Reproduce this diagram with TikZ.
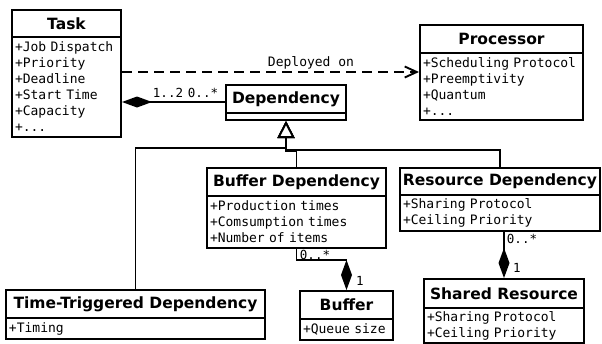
\documentclass[tikz,border=0pt]{standalone}
\usepackage{fontspec}
\setmainfont{DejaVu Sans}
\setmonofont{DejaVu Sans Mono}
\usetikzlibrary{arrows.meta}
\tikzset{
 ttl/.style={draw, line width=2pt, inner sep=0pt, anchor=north west, font=\fontsize{15.5}{18}\selectfont\bfseries},
 att/.style={draw, line width=2pt, inner xsep=3pt, inner ysep=0pt, anchor=north west, align=left, font=\fontsize{13}{16}\selectfont\ttfamily},
 lbl/.style={font=\fontsize{12.5}{14}\selectfont\ttfamily, inner sep=0pt},
 ln/.style={line width=1.9pt},
 comp/.style={ln, {Diamond[length=30pt,width=11pt]}-},
 gen/.style={ln, -{Triangle[open,length=17pt,width=17pt,fill=white]}},
 deploy/.style={ln, dash pattern=on 10pt off 6pt, -{Straight Barb[length=12pt,width=11pt]}},
}
\begin{document}
\begin{tikzpicture}[x=1pt,y=-1pt]
\useasboundingbox (0,0) rectangle (602,343);
\fill[white] (0,0) rectangle (602,343);
% Task
\node[ttl, minimum width=109pt, minimum height=27pt] (task) at (11,9) {Task};
\node[att, minimum width=109pt, minimum height=100pt, text width=103pt] (taskA) at (11,36) {+Job Dispatch\\+Priority\\+Deadline\\+Start Time\\+Capacity\\+...};
% Processor
\node[ttl, minimum width=163pt, minimum height=28pt] (proc) at (419,24) {Processor};
\node[att, minimum width=163pt, minimum height=67pt, text width=157pt] (procA) at (419,52) {+Scheduling Protocol\\+Preemptivity\\+Quantum\\+...};
% Dependency
\node[ttl, minimum width=120pt, minimum height=28pt] (dep) at (225,84) {Dependency};
\node[att, minimum width=120pt, minimum height=7pt] (depA) at (225,112) {};
% Time-Triggered
\node[ttl, minimum width=259pt, minimum height=28pt] (tt) at (5,289) {Time-Triggered Dependency};
\node[att, minimum width=259pt, minimum height=21pt, text width=253pt] (ttA) at (5,317) {+Timing};
% Buffer Dependency
\node[ttl, minimum width=179pt, minimum height=28pt] (bufdep) at (206,167) {Buffer Dependency};
\node[att, minimum width=179pt, minimum height=52pt, text width=173pt] (bufdepA) at (206,195) {+Production times\\+Comsumption times\\+Number of items};
% Resource Dependency
\node[ttl, minimum width=200pt, minimum height=27pt] (res) at (399,167) {Resource Dependency};
\node[att, minimum width=200pt, minimum height=36pt, text width=194pt] (resA) at (399,194) {+Sharing Protocol\\+Ceiling Priority};
% Buffer
\node[ttl, minimum width=93pt, minimum height=28pt] (buf) at (299,290) {Buffer};
\node[att, minimum width=93pt, minimum height=21pt, text width=87pt] (bufA) at (299,318) {+Queue size};
% Shared Resource
\node[ttl, minimum width=160pt, minimum height=29pt] (shared) at (423,278) {Shared Resource};
\node[att, minimum width=160pt, minimum height=35pt, text width=154pt] (sharedA) at (423,307) {+Sharing Protocol\\+Ceiling Priority};
% Connectors
\draw[deploy] ([yshift=-36pt]taskA.north east) -- ([yshift=-20pt]procA.north west);
\node[lbl, font=\fontsize{13}{15}\selectfont\ttfamily] (lDeploy) at (311,63) {Deployed on};
\draw[comp] ([yshift=-15pt]taskA.east) -- ([yshift=-3pt]dep.west);
\node[lbl] (l12) at (168,93) {1..2};
\node[lbl] (l0a) at (203,93) {0..*};
\draw[gen] (tt.north) -- ++(0,-141) -| (depA.south);
\draw[gen] (bufdep.north) -- ++(0,-16) -| (depA.south);
\draw[gen] (res.north) -- ++(0,-17) -| (depA.south);
\draw[comp] (buf.north) -- ++(0,-30) -| (bufdepA.south);
\node[lbl] (l0b) at (315,255) {0..*};
\node[lbl] (l1b) at (360,281) {1};
\draw[comp] (shared.north) -- (shared.north |- resA.south);
\node[lbl] (l0c) at (522,239) {0..*};
\node[lbl] (l1c) at (517,268) {1};
\end{tikzpicture}
\end{document}
